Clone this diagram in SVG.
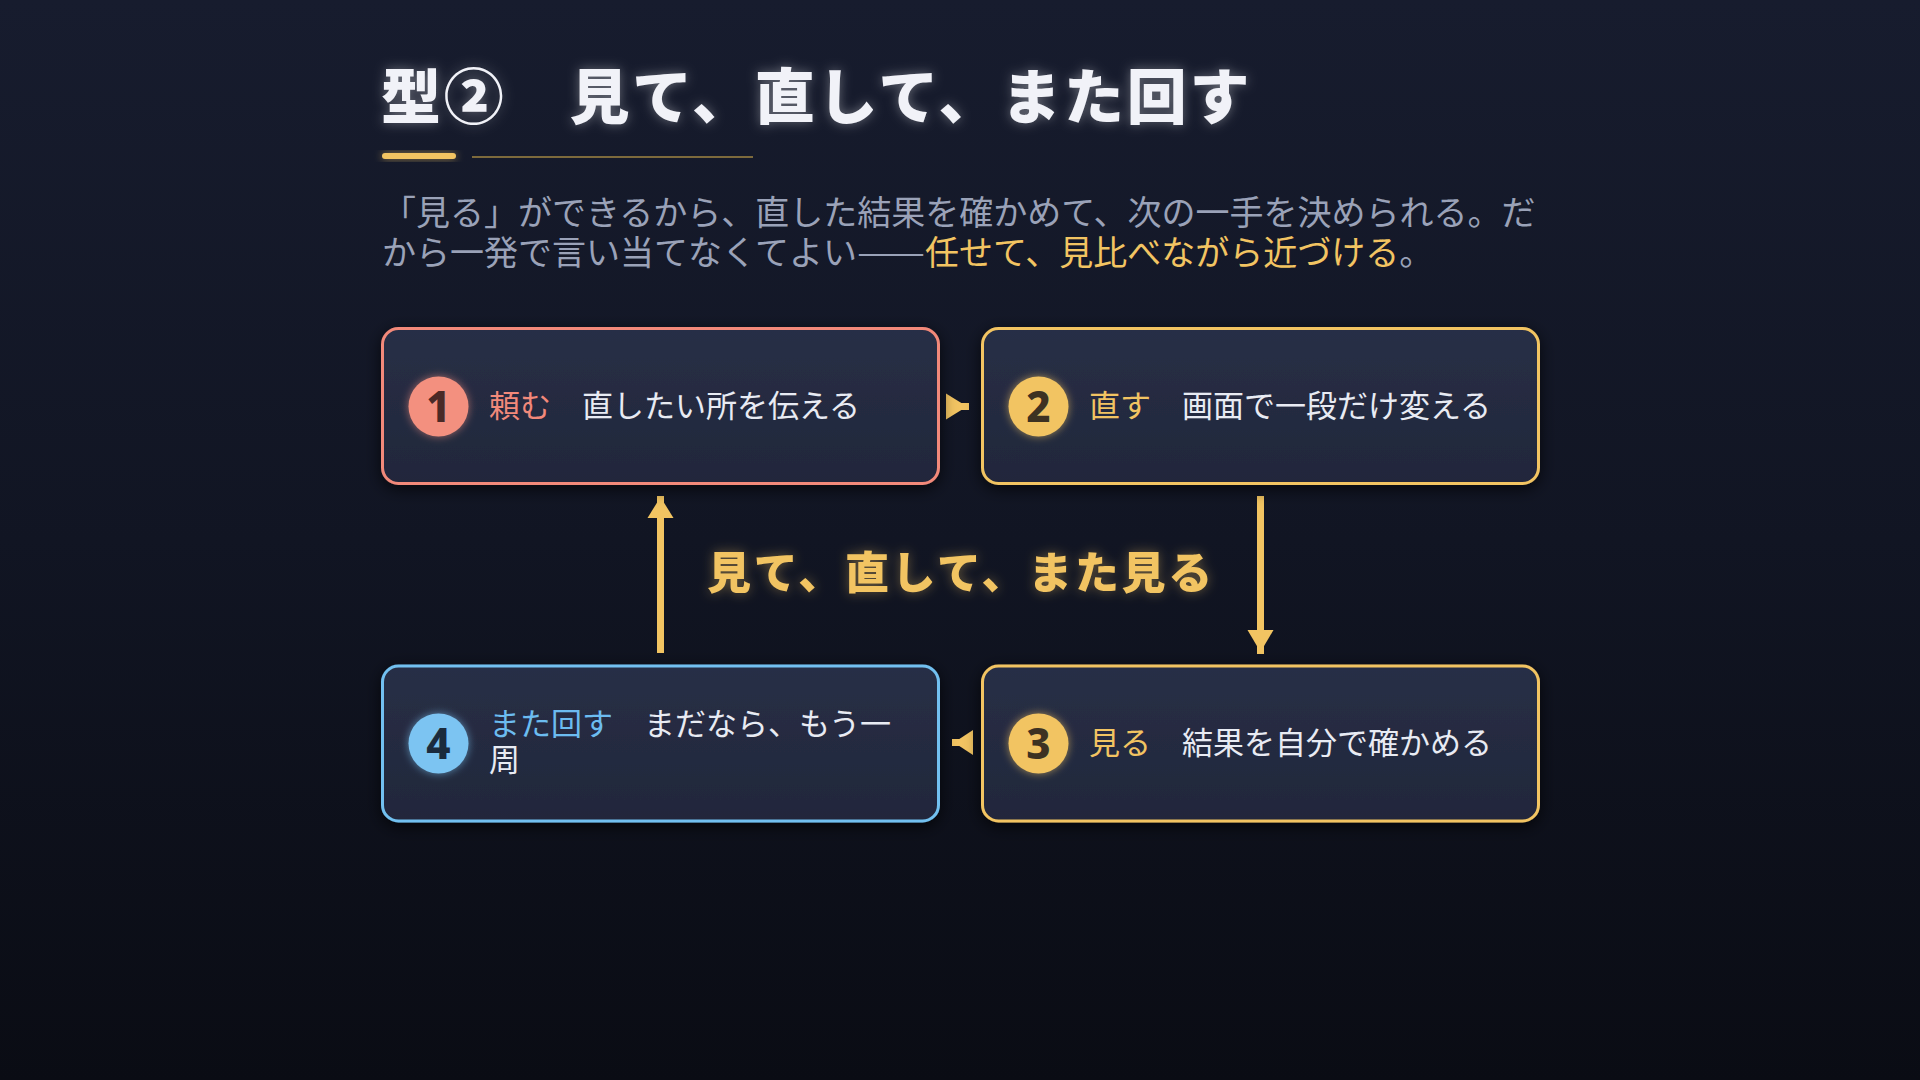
<svg xmlns="http://www.w3.org/2000/svg" width="1920" height="1080" viewBox="0 0 1920 1080">
  <defs>
    <linearGradient id="bg" x1="0" y1="0" x2="0" y2="1">
      <stop offset="0" stop-color="#171c2e"/>
      <stop offset="0.5" stop-color="#111523"/>
      <stop offset="1" stop-color="#0a0c14"/>
    </linearGradient>
    <linearGradient id="boxFill" x1="0" y1="0" x2="0" y2="1">
      <stop offset="0" stop-color="#282f46"/>
      <stop offset="1" stop-color="#21273b"/>
    </linearGradient>
    <filter id="glowWhite" x="-10%" y="-40%" width="120%" height="180%">
      <feGaussianBlur in="SourceAlpha" stdDeviation="6" result="b"/>
      <feFlood flood-color="#ffffff" flood-opacity="0.35"/>
      <feComposite in2="b" operator="in" result="g"/>
      <feMerge><feMergeNode in="g"/><feMergeNode in="SourceGraphic"/></feMerge>
    </filter>
    <filter id="glowYellow" x="-10%" y="-40%" width="120%" height="180%">
      <feGaussianBlur in="SourceAlpha" stdDeviation="6" result="b"/>
      <feFlood flood-color="#f2c462" flood-opacity="0.4"/>
      <feComposite in2="b" operator="in" result="g"/>
      <feMerge><feMergeNode in="g"/><feMergeNode in="SourceGraphic"/></feMerge>
    </filter>
    <filter id="softGlow" x="-50%" y="-50%" width="200%" height="200%">
      <feGaussianBlur in="SourceGraphic" stdDeviation="4" result="b"/>
      <feComponentTransfer in="b" result="g"><feFuncA type="linear" slope="0.6"/></feComponentTransfer>
      <feMerge><feMergeNode in="g"/><feMergeNode in="SourceGraphic"/></feMerge>
    </filter>
    <filter id="boxShadow" x="-10%" y="-20%" width="120%" height="140%">
      <feGaussianBlur in="SourceAlpha" stdDeviation="8" result="b"/>
      <feOffset in="b" dy="4" result="o"/>
      <feFlood flood-color="#05070d" flood-opacity="0.7"/>
      <feComposite in2="o" operator="in" result="s"/>
      <feMerge><feMergeNode in="s"/><feMergeNode in="SourceGraphic"/></feMerge>
    </filter>
  </defs>
  <style>
    .jp { font-family: "Noto Sans CJK JP", "Noto Sans", sans-serif; }
    .title { font-size: 60px; font-weight: 900; fill: #f1f2f8; letter-spacing: 2.8px; }
    .sub { font-size: 34px; font-weight: 400; fill: #9aa2b8; }
    .hl { fill: #f2c462; }
    .box { fill: url(#boxFill); stroke-width: 3; }
    .label { font-size: 31px; font-weight: 400; fill: #e8ebf3; }
    .num { font-family: "Noto Sans", "DejaVu Sans", sans-serif; font-size: 42px; font-weight: 800; text-anchor: middle; }
    .loop { font-size: 44px; font-weight: 900; fill: #f2c462; letter-spacing: 2.7px; }
    .conn { stroke: #f2c462; stroke-width: 7; fill: none; }
    .head { fill: #f2c462; }
    .red { stroke: #f2897a; }
    .yel { stroke: #f2c462; }
    .blu { stroke: #72c0f0; }
  </style>

  <rect x="0" y="0" width="1920" height="1080" fill="url(#bg)"/>

  <g id="header">
    <text class="jp title" x="381" y="119" filter="url(#glowWhite)">型②　見て、直して、また回す</text>
    <rect x="382" y="153" width="74" height="6" rx="3" fill="#f2c462" filter="url(#softGlow)"/>
    <line x1="472" y1="157" x2="753" y2="157" stroke="#7d6a3c" stroke-width="2"/>
    <text class="jp sub" x="382" y="225">「見る」ができるから、直した結果を確かめて、次の一手を決められる。だ</text>
    <text class="jp sub" x="382" y="265">から一発で言い当てなくてよい<tspan x="857" textLength="68" lengthAdjust="spacingAndGlyphs">——</tspan><tspan x="925" class="hl">任せて、見比べながら近づける</tspan>。</text>
  </g>

  <g id="connectors">
    <line class="conn" x1="946" y1="406.5" x2="969" y2="406.5"/>
    <polygon class="head" points="946,393.5 967,406.5 946,419.5"/>
    <line class="conn" x1="1260.5" y1="496" x2="1260.5" y2="654"/>
    <polygon class="head" points="1247.5,630 1260.5,652 1273.5,630"/>
    <line class="conn" x1="973" y1="742.5" x2="952" y2="742.5"/>
    <polygon class="head" points="973,730 954,742.5 973,755"/>
    <line class="conn" x1="660.5" y1="653" x2="660.5" y2="496"/>
    <polygon class="head" points="647.5,518 660.5,497 673.5,518"/>
  </g>

  <g id="loop-label">
    <text class="jp loop" x="707" y="589" filter="url(#glowYellow)">見て、直して、また見る</text>
  </g>

  <g id="node1">
    <rect class="box red" x="382.5" y="328.5" width="556" height="155" rx="16" filter="url(#boxShadow)"/>
    <circle cx="438.5" cy="406.5" r="30" fill="#f3907f" filter="url(#softGlow)"/>
    <text class="num" x="438.5" y="421.5" fill="#4a2a27">1</text>
    <text class="jp label" x="489" y="417"><tspan fill="#f2897a">頼む</tspan>　直したい所を伝える</text>
  </g>

  <g id="node2">
    <rect class="box yel" x="982.5" y="328.5" width="556" height="155" rx="16" filter="url(#boxShadow)"/>
    <circle cx="1038.5" cy="406.5" r="30" fill="#f2c462" filter="url(#softGlow)"/>
    <text class="num" x="1038.5" y="421.5" fill="#3d3222">2</text>
    <text class="jp label" x="1089" y="417"><tspan fill="#f2c462">直す</tspan>　画面で一段だけ変える</text>
  </g>

  <g id="node3">
    <rect class="box yel" x="982.5" y="666" width="556" height="155" rx="16" filter="url(#boxShadow)"/>
    <circle cx="1038.5" cy="743.5" r="30" fill="#f2c462" filter="url(#softGlow)"/>
    <text class="num" x="1038.5" y="758.5" fill="#3d3222">3</text>
    <text class="jp label" x="1089" y="754"><tspan fill="#f2c462">見る</tspan>　結果を自分で確かめる</text>
  </g>

  <g id="node4">
    <rect class="box blu" x="382.5" y="666" width="556" height="155" rx="16" filter="url(#boxShadow)"/>
    <circle cx="438.5" cy="743.5" r="30" fill="#7cc4f2" filter="url(#softGlow)"/>
    <text class="num" x="438.5" y="758.5" fill="#1b2b3d">4</text>
    <text class="jp label" x="489" y="735"><tspan fill="#6cbcf0">また回す</tspan>　まだなら、もう一</text>
    <text class="jp label" x="489" y="771">周</text>
  </g>
</svg>
